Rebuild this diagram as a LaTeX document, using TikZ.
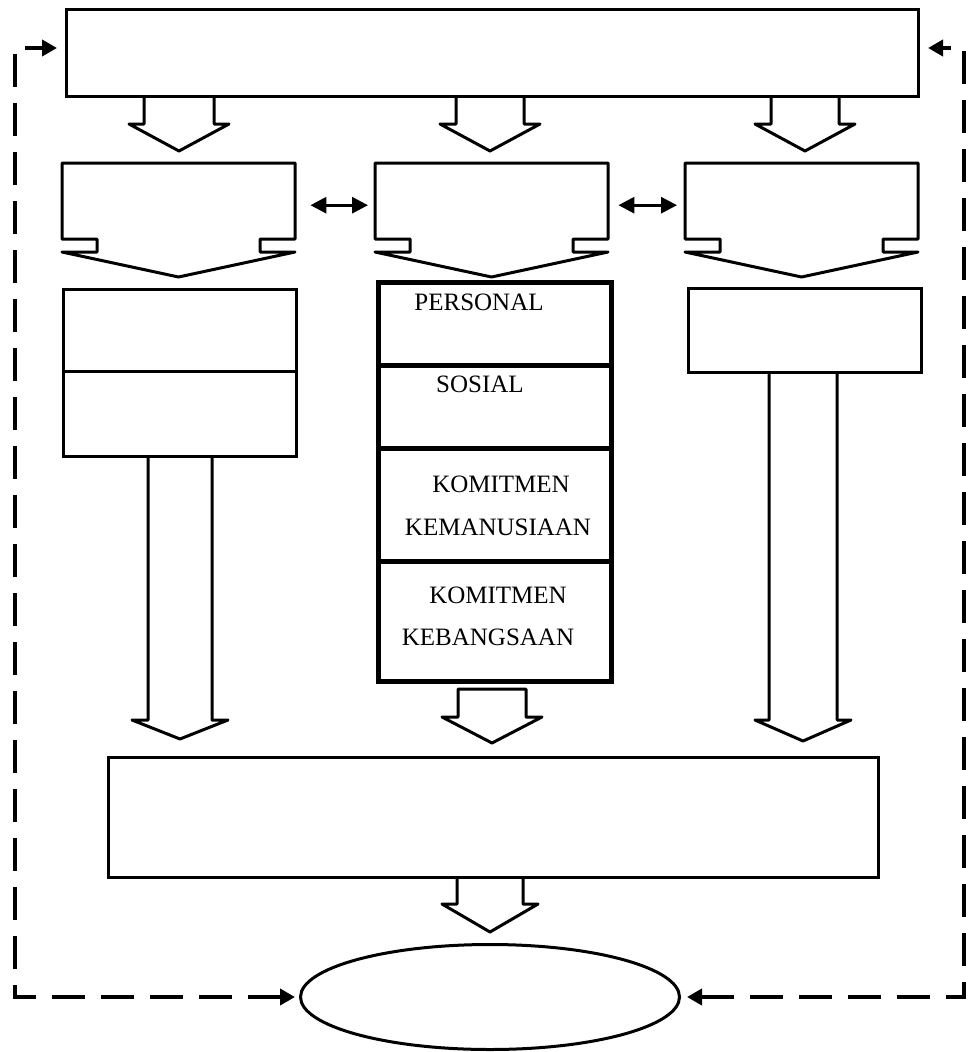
\documentclass[tikz,border=0pt]{standalone}
\usepackage{fontspec}
\setmainfont{Liberation Serif}
\usetikzlibrary{arrows.meta,shapes.geometric}
\newcommand\calloutbox[2]{%
  \draw[blk] (#1,163) -- (#2,163) -- (#2,239) -- (#2-35,239) -- (#2-35,252) -- (#2,252)
    -- ({(#1+#2)/2},277) -- (#1,252) -- (#1+35,252) -- (#1+35,239) -- (#1,239) -- cycle;}
% #1 cx, #2 top, #3 shaft half, #4 head half, #5 head y, #6 tip y
\newcommand\openarrow[6]{%
  \draw[blk] (#1-#3,#2) -- (#1-#3,#5) -- (#1-#4,#5) -- (#1,#6) -- (#1+#4,#5) -- (#1+#3,#5) -- (#1+#3,#2);}
\newcommand\closedarrow[6]{%
  \draw[blk] (#1-#3,#2) -- (#1-#3,#5) -- (#1-#4,#5) -- (#1,#6) -- (#1+#4,#5) -- (#1+#3,#5) -- (#1+#3,#2) -- cycle;}
\begin{document}
\begin{tikzpicture}[x=1pt,y=-1pt,
  box/.style={draw, line width=3pt, inner sep=0pt, anchor=north west},
  thickbox/.style={draw, line width=5pt, inner sep=0pt, anchor=north west, minimum width=233},
  anchorbox/.style={inner sep=0pt, anchor=north west, minimum width=233, minimum height=84},
  blk/.style={draw, line width=3pt, line join=round},
  lbl/.style={font=\fontsize{25}{30}\selectfont, anchor=base, inner sep=0pt},
  loopline/.style={line width=4pt, dash pattern=on 33pt off 16pt,
     {Triangle[length=15pt,width=16pt]}-{Triangle[length=15pt,width=16pt]}},
  dbl/.style={line width=3pt, {Triangle[length=16pt,width=16pt]}-{Triangle[length=16pt,width=16pt]}}
]
\useasboundingbox (0,0) rectangle (967,1052);

% top box
\node[box, minimum width=852, minimum height=87] (top) at (65,8) {};

% top block arrows
\openarrow{179}{95}{35}{50}{124}{151}
\openarrow{490}{95}{34}{50}{124}{151}
\openarrow{805}{95}{34}{50}{124}{151}

% callout boxes
\node[anchorbox] (c1) at (62,163) {};
\node[anchorbox] (c2) at (375,163) {};
\node[anchorbox] (c3) at (685,163) {};
\calloutbox{62}{295}
\calloutbox{375}{608}
\calloutbox{685}{918}

\draw[dbl, shorten <=15pt, shorten >=7pt] (c1.east) -- (c2.west);
\draw[dbl, shorten <=10pt, shorten >=8pt] (c2.east) -- (c3.west);

% left column
\node[box, minimum width=233, minimum height=82] (l1) at (62,288) {};
\node[box, minimum width=233, minimum height=85] (l2) at (62,370) {};

% middle column
\node[thickbox, minimum height=83] (m1) at (376,280) {};
\node[thickbox, minimum height=83] (m2) at (376,363) {};
\node[thickbox, minimum height=113] (m3) at (376,446) {};
\node[thickbox, minimum height=120] (m4) at (376,559) {};

\node[lbl] (t1) at (479,310) {PERSONAL};
\node[lbl] (t2) at (480,392) {SOSIAL};
\node[lbl] (t3) at (501,492) {KOMITMEN};
\node[lbl] (t4) at (498,535) {KEMANUSIAAN};
\node[lbl] (t5) at (498,603) {KOMITMEN};
\node[lbl] (t6) at (488,645) {KEBANGSAAN};

% right column
\node[box, minimum width=233, minimum height=84] (r1) at (687,287) {};

% long arrows
\openarrow{180}{455}{32}{48}{720}{739}
\closedarrow{492}{689}{34}{50}{717}{743}
\openarrow{803}{371}{34}{48}{720}{741}

% bottom box
\node[box, minimum width=770, minimum height=120] (bot) at (107,756) {};

\openarrow{490}{876}{33}{48}{904}{932}

% ellipse
\node[draw, ellipse, line width=3pt, minimum width=379, minimum height=105, inner sep=0pt] (goal) at (490,997) {};

% feedback loops
\coordinate (LB) at (15,997);
\coordinate (LT) at (15,48);
\coordinate (RB) at (964,997);
\coordinate (RT) at (964,48);
\draw[loopline, shorten <=4pt, shorten >=8pt] (goal.west) -- (LB) -- (LT) -- (LT -| top.west);
\draw[loopline, shorten <=6pt, shorten >=8pt] (goal.east) -- (RB) -- (RT) -- (RT -| top.east);
\end{tikzpicture}
\end{document}
